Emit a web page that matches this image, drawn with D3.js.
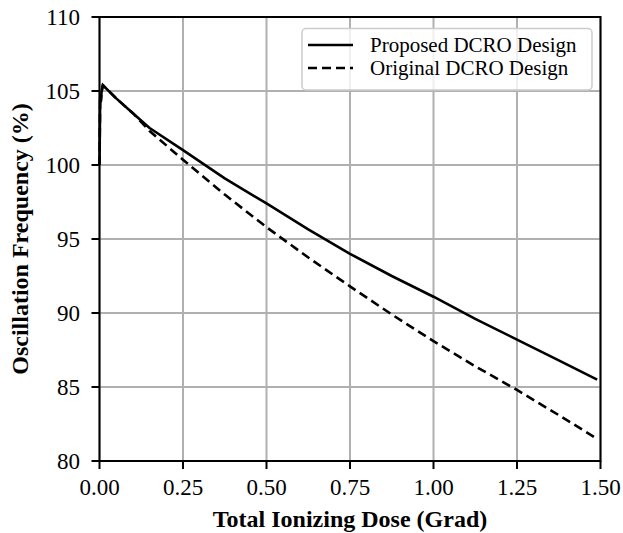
<!DOCTYPE html>
<html><head><meta charset="utf-8">
<script src="https://cdn.jsdelivr.net/npm/d3@7"></script>
<style>body{margin:0;background:#fff}svg{display:block}</style>
</head><body>
<svg id="c" width="623" height="533"></svg>
<script>
const doseProposed = [0, 0.002, 0.004, 0.006, 0.01, 0.05, 0.1, 0.15, 0.25, 0.375, 0.5, 0.625, 0.75, 0.875, 1.0, 1.125, 1.25, 1.375, 1.49];
const freqProposed = [100, 104.6, 104.3, 104.9, 105.4, 104.5, 103.5, 102.5, 101.0, 99.1, 97.4, 95.65, 94.0, 92.5, 91.1, 89.6, 88.2, 86.8, 85.5];
const doseOriginal = [0, 0.002, 0.004, 0.006, 0.01, 0.05, 0.1, 0.15, 0.25, 0.375, 0.5, 0.625, 0.75, 0.875, 1.0, 1.125, 1.25, 1.375, 1.49];
const freqOriginal = [100, 104.6, 104.3, 104.9, 105.4, 104.5, 103.5, 102.3, 100.35, 98.0, 95.8, 93.75, 91.8, 89.9, 88.1, 86.4, 84.8, 83.1, 81.5];
const xTicks = [0, 0.25, 0.5, 0.75, 1.0, 1.25, 1.5];
const yTicks = [80, 85, 90, 95, 100, 105, 110];
const seriesNames = ["Proposed DCRO Design", "Original DCRO Design"];

const svg = d3.select("#c");
const L = 99.5, R = 600.5, T = 17, B = 461;
const x = d3.scaleLinear().domain([0, 1.5]).range([L, R]);
const y = d3.scaleLinear().domain([80, 110]).range([B, T]);
const font = "'Liberation Serif', 'Times New Roman', serif";

// grid
const g = svg.append("g");
g.selectAll(".gx").data(xTicks).enter().append("line")
  .attr("x1", d => x(d)).attr("x2", d => x(d)).attr("y1", T).attr("y2", B)
  .attr("stroke", "#b0b0b0").attr("stroke-width", 2);
g.selectAll(".gy").data(yTicks).enter().append("line")
  .attr("y1", d => y(d)).attr("y2", d => y(d)).attr("x1", L).attr("x2", R)
  .attr("stroke", "#b0b0b0").attr("stroke-width", 2);

// lines
const line = d3.line().x(d => x(d[0])).y(d => y(d[1]));
const dataP = doseProposed.map((d, i) => [d, freqProposed[i]]);
const dataO = doseOriginal.map((d, i) => [d, freqOriginal[i]]);
svg.append("path").datum(dataO).attr("d", line).attr("fill", "none")
  .attr("stroke", "#000").attr("stroke-width", 2.6).attr("stroke-dasharray", "9,5");
svg.append("path").datum(dataP).attr("d", line).attr("fill", "none")
  .attr("stroke", "#000").attr("stroke-width", 2.6).attr("stroke-linejoin", "round");

// frame
svg.append("rect").attr("x", L).attr("y", T).attr("width", R - L).attr("height", B - T)
  .attr("fill", "none").attr("stroke", "#000").attr("stroke-width", 2);

// ticks
svg.selectAll(".tx").data(xTicks).enter().append("line")
  .attr("x1", d => x(d)).attr("x2", d => x(d)).attr("y1", B).attr("y2", B + 8)
  .attr("stroke", "#000").attr("stroke-width", 2);
svg.selectAll(".ty").data(yTicks).enter().append("line")
  .attr("y1", d => y(d)).attr("y2", d => y(d)).attr("x1", L - 8).attr("x2", L)
  .attr("stroke", "#000").attr("stroke-width", 2);
svg.selectAll(".lx").data(xTicks).enter().append("text")
  .attr("x", d => x(d)).attr("y", 495).attr("text-anchor", "middle")
  .attr("font-family", font).attr("font-size", 23).text(d => d3.format(".2f")(d));
svg.selectAll(".ly").data(yTicks).enter().append("text")
  .attr("x", 80).attr("y", d => y(d) + 8).attr("text-anchor", "end")
  .attr("font-family", font).attr("font-size", 23).text(d => d);

// axis titles
svg.append("text").attr("x", (L + R) / 2).attr("y", 527).attr("text-anchor", "middle")
  .attr("font-family", font).attr("font-size", 24).attr("font-weight", "bold")
  .text("Total Ionizing Dose (Grad)");
svg.append("text").attr("transform", `translate(28,${(T + B) / 2}) rotate(-90)`)
  .attr("text-anchor", "middle")
  .attr("font-family", font).attr("font-size", 24).attr("font-weight", "bold")
  .text("Oscillation Frequency (%)");

// legend
const lg = svg.append("g");
lg.append("rect").attr("x", 302).attr("y", 28.5).attr("width", 290).attr("height", 61.5)
  .attr("rx", 4).attr("fill", "#fff").attr("fill-opacity", 0.8)
  .attr("stroke", "#cccccc").attr("stroke-width", 1.5);
seriesNames.forEach((n, i) => {
  const yy = 45 + i * 23;
  lg.append("line").attr("x1", 308).attr("x2", 353).attr("y1", yy).attr("y2", yy)
    .attr("stroke", "#000").attr("stroke-width", 2.6)
    .attr("stroke-dasharray", i === 1 ? "9,5" : null);
  lg.append("text").attr("x", 370).attr("y", yy + 7).attr("font-family", font)
    .attr("font-size", 21).text(n);
});
</script>
</body></html>
